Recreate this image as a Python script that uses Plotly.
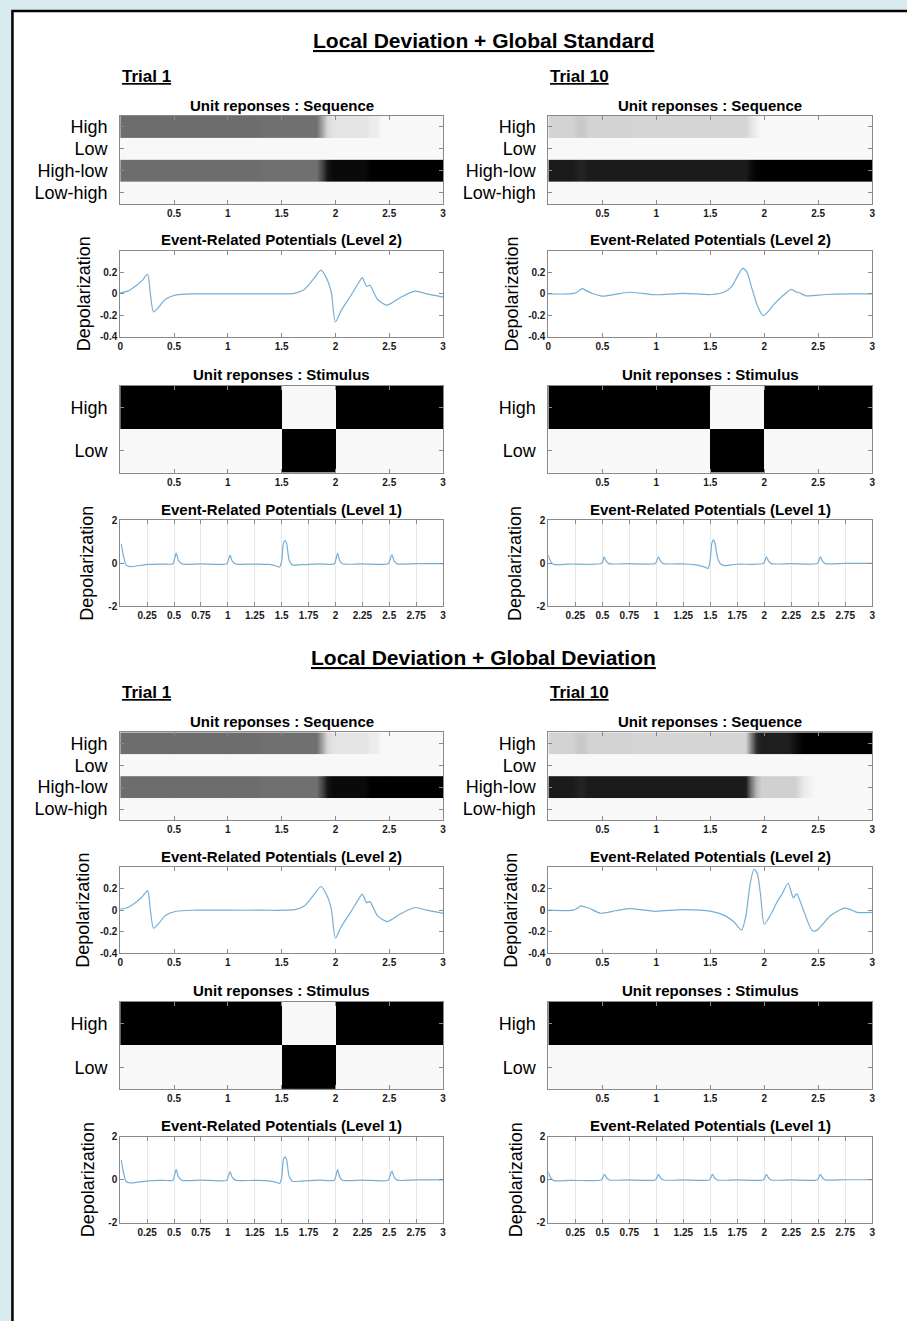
import numpy as np
import plotly.graph_objects as go

# ---------------------------------------------------------------- data
# time bins (s) used by the unit-response rasters
time_bins = np.round(np.arange(0.025, 3.0, 0.05), 3)
seq_rows = ["High", "Low", "High-low", "Low-high"]
stim_rows = ["High", "Low"]

# unit responses: sequence units (activation, 0 = silent, 1 = max)
seq_std_t1_high = [0.56] * 26 + [0.55] * 11 + [0.32, 0.12] + [0.08] * 7 + [0.05] * 2 + [0.0] * 12
seq_std_t1_low = [0.0] * 60
seq_std_t1_highlow = [0.56] * 26 + [0.55] * 11 + [0.72, 0.92] + [0.96] * 7 + [1.0] * 14
seq_std_t1_lowhigh = [0.0] * 60

seq_std_t10_high = [0.15] * 5 + [0.19] * 2 + [0.15] * 8 + [0.14] * 22 + [0.08, 0.03] + [0.0] * 21
seq_std_t10_low = [0.0] * 60
seq_std_t10_highlow = [0.89] * 5 + [0.86] * 2 + [0.89] * 30 + [0.95, 0.99] + [1.0] * 21
seq_std_t10_lowhigh = [0.0] * 60

seq_dev_t1_high = [0.56] * 26 + [0.55] * 11 + [0.32, 0.12] + [0.08] * 7 + [0.05] * 2 + [0.0] * 12
seq_dev_t1_low = [0.0] * 60
seq_dev_t1_highlow = [0.56] * 26 + [0.55] * 11 + [0.72, 0.92] + [0.96] * 7 + [1.0] * 14
seq_dev_t1_lowhigh = [0.0] * 60

seq_dev_t10_high = [0.15] * 5 + [0.19] * 2 + [0.15] * 8 + [0.14] * 22 + [0.45, 0.82] + [0.88] * 6 + [0.93, 0.97] + [1.0] * 13
seq_dev_t10_low = [0.0] * 60
seq_dev_t10_highlow = [0.89] * 5 + [0.86] * 2 + [0.89] * 30 + [0.55, 0.25] + [0.16] * 7 + [0.10, 0.05, 0.02] + [0.0] * 11
seq_dev_t10_lowhigh = [0.0] * 60

# unit responses: stimulus units
stim_std_t1_high = [1.0] * 30 + [0.0] * 10 + [1.0] * 20
stim_std_t1_low = [0.0] * 30 + [1.0] * 10 + [0.0] * 20
stim_std_t10_high = [1.0] * 30 + [0.0] * 10 + [1.0] * 20
stim_std_t10_low = [0.0] * 30 + [1.0] * 10 + [0.0] * 20
stim_dev_t1_high = [1.0] * 30 + [0.0] * 10 + [1.0] * 20
stim_dev_t1_low = [0.0] * 30 + [1.0] * 10 + [0.0] * 20
stim_dev_t10_high = [1.0] * 60
stim_dev_t10_low = [0.0] * 60

# event-related potentials, level 2
erp2_t1_time = [0, 0.07, 0.14, 0.2, 0.255, 0.28, 0.31, 0.36, 0.42, 0.52,
                0.7, 1.0, 1.3, 1.62, 1.71, 1.79, 1.865, 1.91, 1.96, 2.0,
                2.05, 2.14, 2.22, 2.25, 2.29, 2.32, 2.39, 2.48, 2.6, 2.74,
                2.85, 3.0]
erp2_t1_value = [0.01, 0.025, 0.07, 0.12, 0.18, 0.0, -0.167, -0.12, -0.05, -0.01,
                 0, 0, 0, 0.005, 0.04, 0.13, 0.22, 0.16, 0.02, -0.26,
                 -0.16, -0.02, 0.11, 0.15, 0.07, 0.08, -0.05, -0.105, -0.036, 0.025,
                 0.0, -0.03]

erp2_std_t10_time = [0, 0.2, 0.255, 0.29, 0.316, 0.35, 0.41, 0.5, 0.62, 0.745,
                     0.87, 1.0, 1.25, 1.51, 1.635, 1.7, 1.75, 1.8, 1.84, 1.88,
                     1.94, 1.99, 2.04, 2.09, 2.17, 2.25, 2.29, 2.32, 2.385, 2.57,
                     2.78, 3.0]
erp2_std_t10_value = [0, 0, 0.01, 0.035, 0.048, 0.03, 0.003, -0.021, -0.005, 0.015,
                      0.005, -0.008, 0.005, -0.006, 0.02, 0.07, 0.16, 0.236, 0.2, 0.07,
                      -0.12, -0.203, -0.16, -0.097, -0.02, 0.042, 0.02, 0.013, -0.018, -0.006,
                      0.0, 0.0]

erp2_dev_t10_time = [0, 0.23, 0.27, 0.30, 0.34, 0.38, 0.485, 0.62, 0.745, 0.99,
                     1.24, 1.51, 1.635, 1.72, 1.79, 1.83, 1.87, 1.905, 1.935, 1.965,
                     2.0, 2.06, 2.11, 2.17, 2.22, 2.27, 2.30, 2.37, 2.445, 2.49,
                     2.55, 2.615, 2.74, 2.8, 2.86, 3.0]
erp2_dev_t10_value = [0, 0, 0.02, 0.04, 0.03, 0.018, -0.028, -0.005, 0.015, -0.01,
                      0.005, -0.01, -0.05, -0.11, -0.184, -0.05, 0.25, 0.38, 0.34, 0.15,
                      -0.13, -0.04, 0.06, 0.16, 0.25, 0.115, 0.152, -0.02, -0.19, -0.185,
                      -0.12, -0.05, 0.02, 0.006, -0.02, -0.02]

# event-related potentials, level 1
erp1_t1_time = [0.01, 0.03, 0.055, 0.095, 0.15, 0.265, 0.4, 0.49, 0.505, 0.52,
                0.54, 0.57, 0.75, 0.99, 1.005, 1.02, 1.04, 1.07, 1.25, 1.38,
                1.45, 1.48, 1.5, 1.515, 1.53, 1.545, 1.57, 1.6, 1.68, 1.85,
                1.99, 2.005, 2.02, 2.04, 2.065, 2.25, 2.49, 2.505, 2.525, 2.545,
                2.575, 2.75, 3.0]
erp1_t1_value = [0.91, 0.35, -0.08, -0.15, -0.12, -0.05, -0.03, -0.02, 0.2, 0.48,
                 0.15, -0.02, -0.02, -0.02, 0.15, 0.38, 0.12, -0.02, -0.03, -0.05,
                 -0.12, -0.17, 0.1, 0.9, 1.06, 0.95, 0.15, -0.07, -0.06, -0.02,
                 -0.02, 0.2, 0.47, 0.12, -0.02, -0.02, -0.02, 0.15, 0.4, 0.12,
                 -0.02, -0.01, -0.01]

erp1_std_t10_time = [0.0, 0.02, 0.05, 0.08, 0.2, 0.49, 0.505, 0.515, 0.535, 0.56,
                     0.75, 0.99, 1.005, 1.02, 1.04, 1.065, 1.25, 1.35, 1.45, 1.48,
                     1.5, 1.515, 1.53, 1.545, 1.57, 1.6, 1.635, 1.75, 1.99, 2.005,
                     2.02, 2.04, 2.065, 2.25, 2.49, 2.505, 2.52, 2.54, 2.565, 2.75,
                     3.0]
erp1_std_t10_value = [0.38, 0.1, -0.05, -0.06, -0.03, -0.01, 0.12, 0.3, 0.1, -0.01,
                      -0.01, -0.01, 0.12, 0.3, 0.1, -0.01, -0.02, -0.06, -0.17, -0.23,
                      0.2, 0.95, 1.09, 0.9, 0.2, -0.05, -0.1, -0.04, -0.01, 0.12,
                      0.3, 0.1, -0.01, -0.01, -0.01, 0.12, 0.3, 0.1, -0.01, 0.0,
                      0.0]

erp1_dev_t10_time = [0.0, 0.02, 0.05, 0.08, 0.2, 0.49, 0.505, 0.52, 0.54, 0.565,
                     0.75, 0.99, 1.005, 1.02, 1.04, 1.065, 1.25, 1.49, 1.505, 1.52,
                     1.54, 1.565, 1.75, 1.99, 2.005, 2.02, 2.04, 2.065, 2.25, 2.49,
                     2.505, 2.52, 2.54, 2.565, 2.75, 3.0]
erp1_dev_t10_value = [0.35, 0.1, -0.04, -0.05, -0.03, -0.01, 0.1, 0.25, 0.08, -0.01,
                      -0.01, -0.01, 0.1, 0.25, 0.08, -0.01, -0.01, -0.01, 0.1, 0.25,
                      0.08, -0.01, -0.01, -0.01, 0.1, 0.25, 0.08, -0.01, -0.01, -0.01,
                      0.1, 0.25, 0.08, -0.01, 0.0, 0.0]

sec_tick_vals = [0.5, 1, 1.5, 2, 2.5, 3]
sec_tick_text = ["0.5", "1", "1.5", "2", "2.5", "3"]
erp2_x_vals = [0, 0.5, 1, 1.5, 2, 2.5, 3]
erp2_x_text = ["0", "0.5", "1", "1.5", "2", "2.5", "3"]
erp2_y_vals = [-0.4, -0.2, 0, 0.2]
erp2_y_text = ["-0.4", "-0.2", "0", "0.2"]
erp1_x_vals = [0.25, 0.5, 0.75, 1, 1.25, 1.5, 1.75, 2, 2.25, 2.5, 2.75, 3]
erp1_x_text = ["0.25", "0.5", "0.75", "1", "1.25", "1.5", "1.75", "2", "2.25", "2.5", "2.75", "3"]
erp1_y_vals = [-2, 0, 2]
erp1_y_text = ["-2", "0", "2"]

sections = [
    {
        "title": "Local Deviation + Global Standard",
        "trials": [
            {"label": "Trial 1",
             "seq": [seq_std_t1_high, seq_std_t1_low, seq_std_t1_highlow, seq_std_t1_lowhigh],
             "stim": [stim_std_t1_high, stim_std_t1_low],
             "erp2": (erp2_t1_time, erp2_t1_value),
             "erp1": (erp1_t1_time, erp1_t1_value)},
            {"label": "Trial 10",
             "seq": [seq_std_t10_high, seq_std_t10_low, seq_std_t10_highlow, seq_std_t10_lowhigh],
             "stim": [stim_std_t10_high, stim_std_t10_low],
             "erp2": (erp2_std_t10_time, erp2_std_t10_value),
             "erp1": (erp1_std_t10_time, erp1_std_t10_value)},
        ],
    },
    {
        "title": "Local Deviation + Global Deviation",
        "trials": [
            {"label": "Trial 1",
             "seq": [seq_dev_t1_high, seq_dev_t1_low, seq_dev_t1_highlow, seq_dev_t1_lowhigh],
             "stim": [stim_dev_t1_high, stim_dev_t1_low],
             "erp2": (erp2_t1_time, erp2_t1_value),
             "erp1": (erp1_t1_time, erp1_t1_value)},
            {"label": "Trial 10",
             "seq": [seq_dev_t10_high, seq_dev_t10_low, seq_dev_t10_highlow, seq_dev_t10_lowhigh],
             "stim": [stim_dev_t10_high, stim_dev_t10_low],
             "erp2": (erp2_dev_t10_time, erp2_dev_t10_value),
             "erp1": (erp1_dev_t10_time, erp1_dev_t10_value)},
        ],
    },
]

# ---------------------------------------------------------------- layout
W, H = 907, 1321
FONT = "Arial, Liberation Sans, Helvetica, sans-serif"
COLUMNS = [(118, 443), (549, 875)]
SECTION_OFFSET = [0, 622]
ROW_BOX = {"seq": (111, 199.5), "erp2": (247, 334), "stim": (383, 471), "erp1": (519, 606)}
TITLES = {"seq": "Unit reponses : Sequence", "erp2": "Event-Related Potentials (Level 2)",
          "stim": "Unit reponses : Stimulus", "erp1": "Event-Related Potentials (Level 1)"}
GRAYS = [[0.0, "#f8f8f8"], [1.0, "#000000"]]
LINE_BLUE = "#76aed5"
GRID = "rgba(110,110,110,0.16)"
FRAME = "#8a8a8a"
TICKFONT = dict(family=FONT, size=10, color="#1a1a1a", weight="bold")


def fx(x):
    return x / W


def fy(y):
    return 1 - y / H


fig = go.Figure()
annotations = []
axis_id = 0


def base_axis(**kw):
    d = dict(showline=True, linecolor=FRAME, linewidth=1, mirror="ticks",
             ticks="inside", ticklen=4, tickcolor=FRAME, zeroline=False,
             layer="above traces", tickfont=TICKFONT, fixedrange=True)
    d.update(kw)
    return d


def add_text(x, y, text, size, bold=False, xanchor="center", angle=0):
    annotations.append(dict(
        x=fx(x), y=fy(y), xref="paper", yref="paper", text=text, showarrow=False,
        xanchor=xanchor, yanchor="middle", textangle=angle,
        font=dict(family=FONT, size=size, color="#000000",
                  weight="bold" if bold else "normal")))


for s_idx, sec in enumerate(sections):
    off = SECTION_OFFSET[s_idx]
    add_text(484, 35 + off, "<u>" + sec["title"] + "</u>", 21, bold=True)
    for c_idx, trial in enumerate(sec["trials"]):
        x0, x1 = COLUMNS[c_idx]
        add_text(x0, 71 + off, "<u>" + trial["label"] + "</u>", 17, bold=True, xanchor="left")
        for kind in ["seq", "erp2", "stim", "erp1"]:
            axis_id += 1
            xa = "x%d" % axis_id
            ya = "y%d" % axis_id
            top, bottom = ROW_BOX[kind]
            top += off
            bottom += off
            xdom = [fx(x0), fx(x1)]
            ydom = [fy(bottom), fy(top)]
            add_text((x0 + x1) / 2, top - 11, TITLES[kind], 15, bold=True)

            if kind in ("seq", "stim"):
                rows = trial[kind]
                labels = seq_rows if kind == "seq" else stim_rows
                if kind == "seq":
                    # one smoothed strip per unit so that rows never blend into each other
                    for r, row in enumerate(rows):
                        fig.add_trace(go.Heatmap(
                            x=time_bins, y=[r - 0.25, r + 0.25], z=[row, row],
                            colorscale=GRAYS, zmin=0, zmax=1, showscale=False,
                            zsmooth="best", hoverinfo="skip", xaxis=xa, yaxis=ya))
                else:
                    fig.add_trace(go.Heatmap(
                        x=time_bins, y=list(range(len(rows))), z=rows,
                        colorscale=GRAYS, zmin=0, zmax=1, showscale=False,
                        hoverinfo="skip", xaxis=xa, yaxis=ya))
                xax = base_axis(domain=xdom, anchor=ya, range=[0, 3],
                                tickvals=sec_tick_vals, ticktext=sec_tick_text,
                                showgrid=True, gridcolor=GRID)
                yax = base_axis(domain=ydom, anchor=xa,
                                range=[len(rows) - 0.5, -0.5],
                                tickvals=list(range(len(rows))), ticktext=labels,
                                tickfont=dict(family=FONT, size=18, color="#000000"),
                                showgrid=True, gridcolor=GRID, ticklabelstandoff=8)
            else:
                t, v = trial[kind]
                fig.add_trace(go.Scatter(
                    x=t, y=v, mode="lines",
                    line=dict(color=LINE_BLUE, width=1.2, shape="spline", smoothing=0.7),
                    hoverinfo="skip", showlegend=False, xaxis=xa, yaxis=ya))
                if kind == "erp2":
                    xax = base_axis(domain=xdom, anchor=ya, range=[0, 3],
                                    tickvals=erp2_x_vals, ticktext=erp2_x_text, showgrid=False)
                    yax = base_axis(domain=ydom, anchor=xa, range=[-0.4, 0.4],
                                    tickvals=erp2_y_vals, ticktext=erp2_y_text, showgrid=False)
                    lab_dx = 37
                else:
                    xax = base_axis(domain=xdom, anchor=ya, range=[0, 3],
                                    tickvals=erp1_x_vals, ticktext=erp1_x_text,
                                    showgrid=True, gridcolor=GRID)
                    yax = base_axis(domain=ydom, anchor=xa, range=[-2, 2],
                                    tickvals=erp1_y_vals, ticktext=erp1_y_text, showgrid=False)
                    lab_dx = 33
                add_text(x0 - lab_dx, (top + bottom) / 2, "Depolarization", 18, angle=-90)

            key = "" if axis_id == 1 else str(axis_id)
            fig.layout["xaxis" + key] = xax
            fig.layout["yaxis" + key] = yax

fig.update_layout(
    width=W, height=H, autosize=False,
    margin=dict(l=0, r=0, t=0, b=0),
    paper_bgcolor="#d8ebf0", plot_bgcolor="#ffffff",
    showlegend=False, annotations=annotations,
    font=dict(family=FONT),
    shapes=[dict(type="rect", xref="paper", yref="paper", layer="below",
                 x0=fx(9.5), x1=1.02, y0=-0.02, y1=fy(5),
                 fillcolor="#ffffff", line=dict(color="#000000", width=2.5))],
)

fig.write_html("out.html", config={"displayModeBar": False})
